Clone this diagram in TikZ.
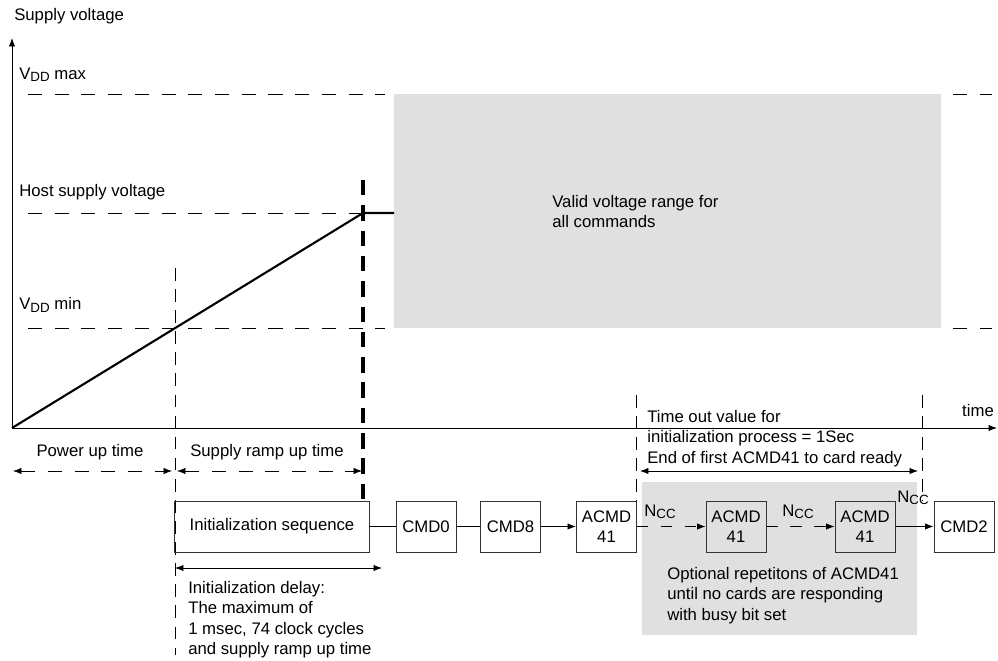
\documentclass[tikz,border=0pt]{standalone}
\usepackage{fontspec}
\setmainfont{Liberation Sans}
\usetikzlibrary{arrows.meta}

\newcommand{\vdd}{V\raisebox{-1.7pt}{\fontsize{9.5}{10}\selectfont DD}}
\newcommand{\ncc}{N\raisebox{-1.7pt}{\fontsize{9.5}{10}\selectfont CC}}

\tikzset{
  cmdbox/.style={draw=black!80, line width=.7pt, minimum width=1.5cm, minimum height=1.275cm, inner sep=0pt, align=center},
  lbl/.style={inner sep=0pt, anchor=west},
  txtblock/.style={inner sep=0pt, anchor=north west, align=left},
  levdash/.style={line width=.5pt, dash pattern=on 10pt off 9pt},
  thindash/.style={line width=.5pt, dash pattern=on 9pt off 6pt},
  thickdash/.style={line width=2.8pt, dash pattern=on 11pt off 7pt},
  ccdash/.style={line width=.5pt, dash pattern=on 8pt off 9pt},
  validarea/.style={fill=black!12}
}

\begin{document}
\begin{tikzpicture}[x=0.025cm,y=-0.025cm,>={Latex[length=6pt,width=4.5pt]},
  font=\fontsize{11.9}{14.5}\selectfont]
\useasboundingbox (0,0) rectangle (998,661);

\fill[validarea] (394,94) rectangle (941,328);
\fill[validarea] (642,482) rectangle (917,635);

\coordinate (o) at (12,428);
\coordinate (ytop) at (12,38);
\coordinate (xend) at (997,428);
\coordinate (host) at (363,213);
\coordinate (hostend) at (394,213);

\draw[->, line width=.6pt] (o) -- (ytop);
\draw[->, line width=.6pt] (o) -- (xend);

\node[lbl] (ylabel) at (14,16) {Supply voltage};
\node[lbl] (vmax) at (19,75) {\vdd{} max};
\node[lbl] (vhost) at (19,192) {Host supply voltage};
\node[lbl] (vmin) at (19,305) {\vdd{} min};
\node[inner sep=0pt] (tlabel) at (978,411) {time};

\foreach \y/\xr in {94/385,213/363,328/385}
  \draw[levdash] (28,\y) -- (\xr,\y);
\foreach \y in {94,328}
  \draw[levdash] (953,\y) -- (992,\y);

\draw[line width=1.5pt] (o) -- (host) -- (hostend);

\node[txtblock] (valid) at (552,195) {Valid voltage range for\\all commands};

\draw[thindash] (175,268) -- (175,655);
\draw[thickdash] (363,180) -- (363,501);
\draw[thindash] (636,395) -- (636,501);
\draw[thindash] (922,395) -- (922,501);

\coordinate (pu1) at (13,471);
\coordinate (pu2) at (172,471);
\coordinate (ru1) at (177,471);
\coordinate (ru2) at (362,471);
\draw[<->, levdash] (pu1) -- (pu2);
\draw[<->, levdash] (ru1) -- (ru2);
\node[inner sep=0pt] (powerup) at (90,452) {Power up time};
\node[inner sep=0pt] (rampup) at (267,452) {Supply ramp up time};

\node[cmdbox, minimum width=4.85cm] (init) at (272,526.5) {Initialization sequence};
\node[cmdbox] (cmd0) at (426,526.5) {CMD0};
\node[cmdbox] (cmd8) at (510.5,526.5) {CMD8};
\node[cmdbox] (acmda) at (606.5,526.5) {ACMD\\41};
\node[cmdbox] (acmdb) at (736,526.5) {ACMD\\41};
\node[cmdbox] (acmdc) at (865,526.5) {ACMD\\41};
\node[cmdbox] (cmd2) at (964,526.5) {CMD2};

\draw[line width=.6pt] (init) -- (cmd0);
\draw[line width=.6pt] (cmd0) -- (cmd8);
\draw[->, line width=.6pt] (cmd8) -- (acmda);
\draw[->, ccdash] (acmda) -- (acmdb);
\draw[->, ccdash] (acmdb) -- (acmdc);
\draw[->, line width=.6pt] (acmdc) -- (cmd2);

\node[inner sep=0pt] (ncca) at (660,512) {\ncc};
\node[inner sep=0pt] (nccb) at (798,512) {\ncc};
\node[inner sep=0pt] (nccc) at (913,498) {\ncc};

\coordinate (id1) at (175,568);
\coordinate (id2) at (382,568);
\draw[<->, line width=.6pt] (id1) -- (id2);
\node[txtblock] (initdelay) at (188,581) {Initialization delay:\\The maximum of\\1 msec, 74 clock cycles\\and supply ramp up time};

\coordinate (to1) at (640,471);
\coordinate (to2) at (918,471);
\draw[<->, line width=.6pt] (to1) -- (to2);
\node[txtblock] (timeout) at (647,410) {Time out value for\\initialization process = 1Sec\\End of first ACMD41 to card ready};

\node[txtblock] (optional) at (667,567) {Optional repetitons of ACMD41\\until no cards are responding\\with busy bit set};

\end{tikzpicture}
\end{document}
